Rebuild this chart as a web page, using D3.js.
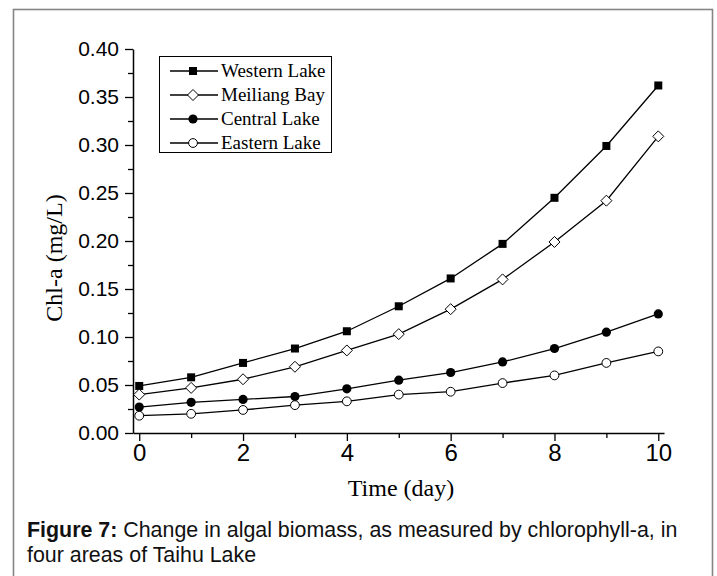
<!DOCTYPE html>
<html>
<head>
<meta charset="utf-8">
<script src="https://cdn.jsdelivr.net/npm/d3@7"></script>
<style>
  body { margin: 0; background: #fff; }
  svg { display: block; }
  .axis path, .axis line { stroke: #000; }
  .axis text { fill: #000; font-family: "Liberation Sans", Arial, sans-serif; }
</style>
</head>
<body>
<div id="chart"></div>
<script>
// data
var days = [0, 1, 2, 3, 4, 5, 6, 7, 8, 9, 10];
var western = [0.049, 0.058, 0.073, 0.088, 0.106, 0.132, 0.161, 0.197, 0.245, 0.299, 0.362];
var meiliang = [0.040, 0.047, 0.056, 0.069, 0.086, 0.103, 0.129, 0.160, 0.199, 0.242, 0.309];
var central = [0.027, 0.032, 0.035, 0.038, 0.046, 0.055, 0.063, 0.074, 0.088, 0.105, 0.124];
var eastern = [0.018, 0.020, 0.024, 0.029, 0.033, 0.040, 0.043, 0.052, 0.060, 0.073, 0.085];
var seriesNames = ["Western Lake", "Meiliang Bay", "Central Lake", "Eastern Lake"];
var seriesMarkers = ["square", "diamond", "dot", "circle"];
var yTicks = [0, 0.05, 0.10, 0.15, 0.20, 0.25, 0.30, 0.35, 0.40];
var yMinorTicks = [0.025, 0.075, 0.125, 0.175, 0.225, 0.275, 0.325, 0.375];
var xTicks = [0, 2, 4, 6, 8, 10];
var xMinorTicks = [1, 3, 5, 7, 9];

var series = [western, meiliang, central, eastern].map(function(vals, i) {
  return {
    name: seriesNames[i],
    marker: seriesMarkers[i],
    values: days.map(function(d, j) { return {x: d, y: vals[j]}; })
  };
});

var W = 717, H = 576;
var svg = d3.select("#chart").append("svg")
    .attr("width", W)
    .attr("height", H);

// outer frame
svg.append("rect")
    .attr("x", 13.5).attr("y", 9.5)
    .attr("width", 699).attr("height", 580)
    .attr("fill", "none")
    .attr("stroke", "#858585")
    .attr("stroke-width", 1.6);

var xScale = d3.scaleLinear().domain([-0.12, 10.11]).range([133, 664]);
var yScale = d3.scaleLinear().domain([0, 0.40]).range([433, 49]);

// x axis
svg.append("g")
    .attr("class", "axis")
    .attr("transform", "translate(0," + yScale(0) + ")")
    .call(d3.axisBottom(xScale).tickValues(xTicks).tickSize(8).tickSizeOuter(0).tickPadding(3))
    .call(function(g) {
      g.select(".domain").attr("stroke-width", 1.5);
      g.selectAll("line").attr("stroke-width", 1.3);
      g.selectAll("text").attr("font-size", "24px");
    });
svg.append("g")
    .attr("class", "axis")
    .attr("transform", "translate(0," + yScale(0) + ")")
    .call(d3.axisBottom(xScale).tickValues(xMinorTicks).tickSize(5).tickFormat(""))
    .call(function(g) {
      g.select(".domain").remove();
      g.selectAll("line").attr("stroke-width", 1.3);
    });

// y axis
svg.append("g")
    .attr("class", "axis")
    .attr("transform", "translate(" + xScale.range()[0] + ",0)")
    .call(d3.axisLeft(yScale).tickValues(yTicks).tickSize(8).tickSizeOuter(0).tickPadding(6).tickFormat(d3.format(".2f")))
    .call(function(g) {
      g.select(".domain").attr("stroke-width", 1.5);
      g.selectAll("line").attr("stroke-width", 1.3);
      g.selectAll("text").attr("font-size", "21px");
    });
svg.append("g")
    .attr("class", "axis")
    .attr("transform", "translate(" + xScale.range()[0] + ",0)")
    .call(d3.axisLeft(yScale).tickValues(yMinorTicks).tickSize(5).tickFormat(""))
    .call(function(g) {
      g.select(".domain").remove();
      g.selectAll("line").attr("stroke-width", 1.3);
    });

// axis titles
svg.append("text")
    .attr("transform", "translate(62,258) rotate(-90)")
    .attr("text-anchor", "middle")
    .attr("font-family", "'Liberation Serif', 'Times New Roman', serif")
    .attr("font-size", "24px")
    .text("Chl-a (mg/L)");

svg.append("text")
    .attr("x", 401)
    .attr("y", 496)
    .attr("text-anchor", "middle")
    .attr("font-family", "'Liberation Serif', 'Times New Roman', serif")
    .attr("font-size", "24px")
    .text("Time (day)");

// markers
function drawMarker(g, type, cx, cy) {
  if (type === "square") {
    g.append("rect").attr("x", cx - 4).attr("y", cy - 4)
      .attr("width", 8).attr("height", 8).attr("fill", "#000");
  }
  else if (type === "diamond") {
    g.append("path")
      .attr("d", "M" + cx + "," + (cy - 5.5) + "L" + (cx + 5.5) + "," + cy +
                 "L" + cx + "," + (cy + 5.5) + "L" + (cx - 5.5) + "," + cy + "Z")
      .attr("fill", "#fff").attr("stroke", "#000").attr("stroke-width", 1);
  }
  else if (type === "dot") {
    g.append("circle").attr("cx", cx).attr("cy", cy).attr("r", 4.6).attr("fill", "#000");
  }
  else {
    g.append("circle").attr("cx", cx).attr("cy", cy).attr("r", 4.4)
      .attr("fill", "#fff").attr("stroke", "#000").attr("stroke-width", 1);
  }
}

var line = d3.line()
    .x(function(d) { return xScale(d.x); })
    .y(function(d) { return yScale(d.y); });

series.forEach(function(s) {
  var g = svg.append("g");
  g.append("path")
    .attr("d", line(s.values))
    .attr("fill", "none")
    .attr("stroke", "#000")
    .attr("stroke-width", 1.3);
  s.values.forEach(function(d) {
    drawMarker(g, s.marker, xScale(d.x), yScale(d.y));
  });
});

// legend
var legend = svg.append("g");
legend.append("rect")
    .attr("x", 159.5).attr("y", 56.5)
    .attr("width", 172).attr("height", 96)
    .attr("fill", "#fff")
    .attr("stroke", "#000")
    .attr("stroke-width", 1);

series.forEach(function(s, i) {
  var cy = 71 + i * 24;
  legend.append("line")
    .attr("x1", 170).attr("x2", 218)
    .attr("y1", cy).attr("y2", cy)
    .attr("stroke", "#000").attr("stroke-width", 1.3);
  drawMarker(legend, s.marker, 193, cy);
  legend.append("text")
    .attr("x", 221)
    .attr("y", cy + 6)
    .attr("font-family", "'Liberation Serif', 'Times New Roman', serif")
    .attr("font-size", "19px")
    .text(s.name);
});

// caption
var caption = svg.append("text")
    .attr("font-family", "'Liberation Sans', Arial, sans-serif")
    .attr("font-size", "21.4px")
    .attr("fill", "#111");
var line1 = caption.append("tspan").attr("x", 27).attr("y", 537);
line1.append("tspan").attr("font-weight", "bold").text("Figure 7:");
line1.append("tspan").text(" Change in algal biomass, as measured by chlorophyll-a, in");
caption.append("tspan").attr("x", 27).attr("y", 562).text("four areas of Taihu Lake");
</script>
</body>
</html>
